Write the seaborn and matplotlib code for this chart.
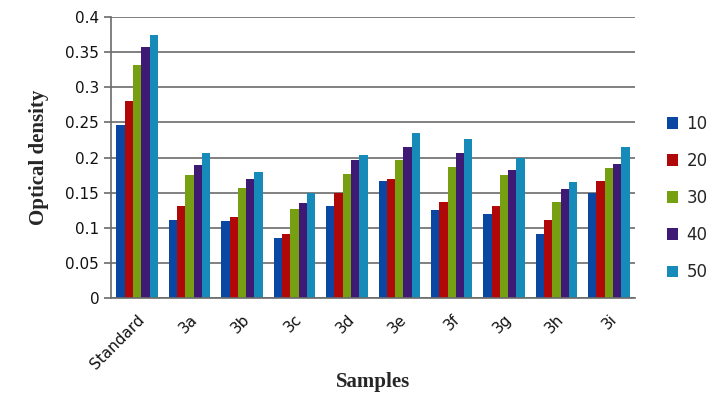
import matplotlib
matplotlib.use("Agg")
import matplotlib.pyplot as plt
import numpy as np
import pandas as pd
import seaborn as sns
from matplotlib.patches import Patch

# --- Data ---
SAMPLES = ["Standard", "3a", "3b", "3c", "3d", "3e", "3f", "3g", "3h", "3i"]
CONCENTRATIONS = ["10", "20", "30", "40", "50"]
OD_10 = [0.247, 0.111, 0.110, 0.085, 0.131, 0.166, 0.125, 0.119, 0.091, 0.150]
OD_20 = [0.281, 0.131, 0.115, 0.091, 0.150, 0.170, 0.137, 0.131, 0.111, 0.167]
OD_30 = [0.331, 0.175, 0.157, 0.127, 0.177, 0.197, 0.187, 0.175, 0.137, 0.185]
OD_40 = [0.357, 0.189, 0.169, 0.135, 0.197, 0.215, 0.207, 0.183, 0.155, 0.191]
OD_50 = [0.375, 0.207, 0.179, 0.150, 0.203, 0.235, 0.227, 0.200, 0.165, 0.215]

COLORS = ["#0a47a3", "#b00808", "#76a012", "#3f1a74", "#168bba"]

sns.set_style("white")
plt.rcParams["font.family"] = ["DejaVu Sans"]

df = pd.DataFrame({"Sample": SAMPLES, "10": OD_10, "20": OD_20, "30": OD_30,
                   "40": OD_40, "50": OD_50})
long = df.melt(id_vars="Sample", var_name="Conc", value_name="OD")

fig = plt.figure(figsize=(7.16, 4.04), dpi=100)
ax = fig.add_axes([0.155, 0.262, 0.732, 0.696])

sns.barplot(data=long, x="Sample", y="OD", hue="Conc", order=SAMPLES,
            hue_order=CONCENTRATIONS, palette=COLORS, width=0.79, gap=0,
            saturation=1, edgecolor="none", linewidth=0, legend=False, ax=ax)

ax.set_ylim(0, 0.4)
ax.set_xlim(-0.5, len(SAMPLES) - 0.5)
ax.set_yticks(np.arange(0, 0.401, 0.05))
ax.set_yticklabels(["0", "0.05", "0.1", "0.15", "0.2", "0.25", "0.3", "0.35", "0.4"],
                   fontsize=11, color="#111111")
ax.yaxis.grid(True, color="#6b6b6b", linewidth=1.2)
ax.set_axisbelow(True)

# category labels with tick marks between groups
ax.set_xticks(range(len(SAMPLES)))
ax.set_xticklabels(SAMPLES, rotation=45, ha="right", rotation_mode="anchor",
                   fontsize=11, color="#111111")
ax.tick_params(axis="x", which="major", length=0, pad=10)
ax.set_xticks(np.arange(-0.5, len(SAMPLES), 1), minor=True)
ax.tick_params(axis="x", which="minor", length=6, color="#6b6b6b", width=1.2,
               direction="out")
ax.tick_params(axis="y", length=5, color="#6b6b6b", width=1.2, direction="out", left=True)

for side in ["top", "right"]:
    ax.spines[side].set_visible(False)
for side in ["left", "bottom"]:
    ax.spines[side].set_color("#6b6b6b")
    ax.spines[side].set_linewidth(1.2)

ax.set_xlabel("Samples", family="Liberation Serif", fontweight="bold", fontsize=15,
              labelpad=0)
ax.set_ylabel("Optical density", family="Liberation Serif", fontweight="bold",
              fontsize=15, labelpad=12)

handles = [Patch(facecolor=c, edgecolor="none") for c in COLORS]
fig.legend(handles, CONCENTRATIONS, loc="center left", bbox_to_anchor=(0.91, 0.51),
           frameon=False, fontsize=12, handlelength=0.7, handleheight=0.7,
           labelspacing=1.15, handletextpad=0.5)

fig.savefig("out.png", dpi=100)
